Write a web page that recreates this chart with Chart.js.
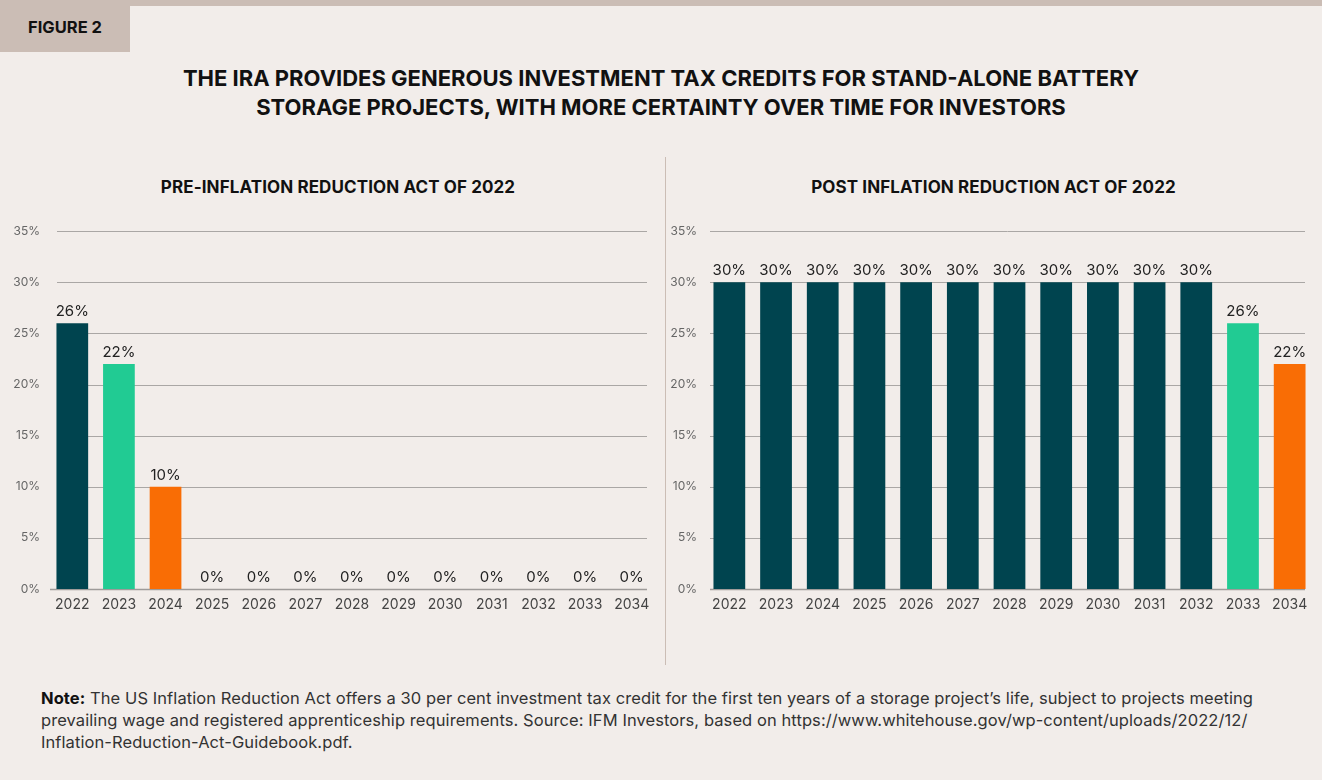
<!DOCTYPE html>
<html>
<head>
<meta charset="utf-8">
<script src="https://cdn.jsdelivr.net/npm/chart.js@4.4.0/dist/chart.umd.min.js"></script>
<style>
  html, body { margin:0; padding:0; }
  body { width:1322px; height:780px; background:#f2edea; position:relative; overflow:hidden; font-family:Inter, "Noto Sans", sans-serif; }
  #band { position:absolute; left:0; top:0; width:1322px; height:6px; background:#cbbdb5; }
  #fig { position:absolute; left:0; top:0; width:130px; height:52px; background:#cbbdb5; color:#111; font-weight:700; font-size:16.5px; line-height:54px; text-align:center; }
  #title { position:absolute; left:0; width:1322px; top:64px; text-align:center; font-weight:700; font-size:22px; line-height:29px; color:#111; }
  .sub { position:absolute; top:177px; font-weight:700; font-size:17px; color:#111; text-align:center; letter-spacing:0.1px; }
  #divider { position:absolute; left:665px; top:157px; width:1px; height:508px; background:#cbbdb5; }
  #note { position:absolute; left:41px; top:687px; font-size:16.5px; line-height:22px; color:#333; white-space:nowrap; letter-spacing:0.08px; }
  .wrap { position:absolute; top:215px; height:410px; }
</style>
</head>
<body>
<div id="band"></div>
<div id="fig">FIGURE 2</div>
<div id="title">THE IRA PROVIDES GENEROUS INVESTMENT TAX CREDITS FOR STAND-ALONE BATTERY<br>STORAGE PROJECTS, WITH MORE CERTAINTY OVER TIME FOR INVESTORS</div>
<div class="sub" style="left:0;width:676px;">PRE-INFLATION REDUCTION ACT OF 2022</div>
<div class="sub" style="left:665px;width:657px;">POST INFLATION REDUCTION ACT OF 2022</div>
<div id="divider"></div>
<div class="wrap" style="left:0;width:662px;"><canvas id="c1" width="662" height="410"></canvas></div>
<div class="wrap" style="left:670px;width:652px;"><canvas id="c2" width="652" height="410"></canvas></div>
<div id="note"><b style="color:#111">Note:</b> The US Inflation Reduction Act offers a 30 per cent investment tax credit for the first ten years of a storage project’s life, subject to projects meeting<br>prevailing wage and registered apprenticeship requirements. Source: IFM Investors, based on https://www.whitehouse.gov/wp-content/uploads/2022/12/<br>Inflation-Reduction-Act-Guidebook.pdf.</div>
<script>
const years = ['2022','2023','2024','2025','2026','2027','2028','2029','2030','2031','2032','2033','2034'];
const preIRA = [26,22,10,0,0,0,0,0,0,0,0,0,0];
const postIRA = [30,30,30,30,30,30,30,30,30,30,30,26,22];
const preColors = ['#00444f','#21cb93','#f96d05','#00444f','#00444f','#00444f','#00444f','#00444f','#00444f','#00444f','#00444f','#00444f','#00444f'];
const postColors = ['#00444f','#00444f','#00444f','#00444f','#00444f','#00444f','#00444f','#00444f','#00444f','#00444f','#00444f','#21cb93','#f96d05'];
const yTicks = [0,5,10,15,20,25,30,35];

const labelPlugin = {
  id:'valLabels',
  afterDatasetsDraw(chart){
    const ctx = chart.ctx;
    const meta = chart.getDatasetMeta(0);
    const data = chart.data.datasets[0].data;
    ctx.save();
    ctx.font = '15px Inter, "Noto Sans", sans-serif';
    ctx.fillStyle = '#222';
    ctx.textAlign = 'center';
    ctx.textBaseline = 'bottom';
    meta.data.forEach((bar,i)=>{
      ctx.fillText(data[i] + '%', bar.x, bar.y - 4);
    });
    ctx.restore();
  }
};

const gridPlugin = {
  id:'customGrid',
  beforeDatasetsDraw(chart, args, opts){
    const ctx = chart.ctx;
    const y = chart.scales.y;
    ctx.save();
    yTicks.forEach(v=>{
      const py = Math.round(y.getPixelForValue(v)) + 0.5;
      ctx.beginPath();
      if (v === 0) {
        ctx.strokeStyle = '#9e9b99'; ctx.lineWidth = 1.5;
        ctx.moveTo(opts.baseX1, py); ctx.lineTo(opts.x2, py);
      } else {
        ctx.strokeStyle = '#aaa7a5'; ctx.lineWidth = 1;
        ctx.moveTo(opts.x1, py); ctx.lineTo(opts.x2, py);
      }
      ctx.stroke();
    });
    ctx.restore();
  }
};

function makeChart(id, values, colors, leftW, padRight, gx1, gx2, bx1){
  new Chart(document.getElementById(id), {
    type:'bar',
    data:{ labels: years, datasets:[{ data: values, backgroundColor: colors, barPercentage:0.68, categoryPercentage:1.0 }]},
    plugins:[gridPlugin, labelPlugin],
    options:{
      responsive:false, animation:false,
      layout:{ padding:{ top:16, right:padRight, left:0, bottom:0 } },
      plugins:{ legend:{display:false}, tooltip:{enabled:false}, customGrid:{ x1:gx1, x2:gx2, baseX1:bx1 } },
      scales:{
        x:{
          offset:true,
          grid:{ display:false, drawTicks:false },
          border:{ display:false },
          ticks:{ color:'#444', font:{ size:14, family:'Inter' }, padding:7, maxRotation:0, autoSkip:false },
          afterFit(s){ s.height = 36; }
        },
        y:{
          min:0, max:35,
          afterBuildTicks(s){ s.ticks = yTicks.map(v=>({value:v})); },
          grid:{ display:false, drawTicks:false },
          border:{ display:false },
          ticks:{ color:'#666', font:{ size:12, family:'Inter' }, padding:9, callback:v=>v+'%' },
          afterFit(s){ s.width = leftW; }
        }
      }
    }
  });
}
makeChart('c1', preIRA, preColors, 49, 7, 57, 647, 50);
makeChart('c2', postIRA, postColors, 36, 9, 40, 635, 40);
</script>
</body>
</html>
